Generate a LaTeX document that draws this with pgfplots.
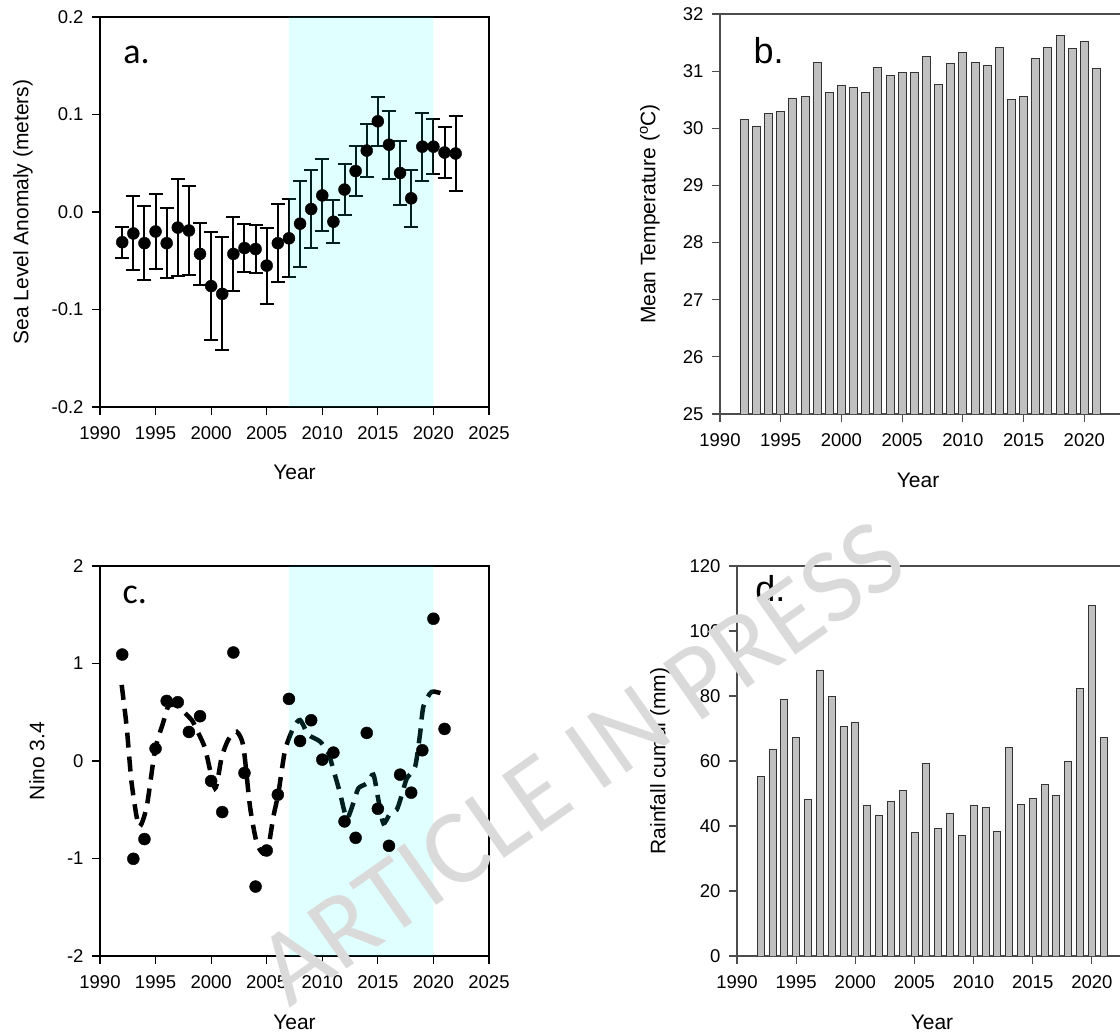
\documentclass[border=0pt]{standalone}
\usepackage{fontspec}
\setmainfont{Liberation Sans}
\newfontfamily\carlito{Carlito}
\usepackage{pgfplots}
\pgfplotsset{compat=1.18}

\definecolor{barfill}{RGB}{192,192,192}
\definecolor{wm}{RGB}{218,218,218}
\definecolor{aqua}{RGB}{0,255,255}

\pgfplotsset{
  panel/.style={
    scale only axis, anchor=south west,
    xmin=1990, xmax=2025, xtick={1990,1995,...,2025},
    tick align=outside, tick pos=left,
    major tick length=8pt,
    /pgf/number format/1000 sep={},
    /pgf/number format/assume math mode=true,
    ticklabel style={font=\fontsize{18.5}{18.5}\selectfont},
    xticklabel style={yshift=-8pt},
    yticklabel style={xshift=-5pt},
    label style={font=\fontsize{21}{21}\selectfont},
    axis line style={line width=1.1pt},
    every tick/.style={line width=1.1pt, black},
  },
  barpanel/.style={
    panel,
    axis line style={line width=1.1pt, black!70},
    every tick/.style={line width=1.1pt, black!70},
  },
}
\tikzset{letter/.style={anchor=base west, font=\fontsize{36}{36}\selectfont}}

\begin{document}
\begin{tikzpicture}

% a. sea level anomaly
\begin{axis}[panel,
  at={(100pt,628pt)}, width=389pt, height=390pt,
  ymin=-0.2, ymax=0.2, ytick={-0.2,-0.1,0,0.1,0.2},
  yticklabels={-0.2,-0.1,0.0,0.1,0.2},
  xlabel={Year}, ylabel={Sea Level Anomaly (meters)},
  xlabel style={at={(axis description cs:0.5,-0.167)}, anchor=center},
  ylabel style={at={(axis description cs:-0.198,0.5)}, anchor=center},
]
\addplot[only marks, mark=*, mark size=6pt, black,
  error bars/.cd, y dir=both, y explicit,
  error bar style={line width=2pt, black},
  error mark options={rotate=90, mark size=7pt, line width=2pt, black}]
  table[x=yr, y=v, y error=e] {
yr v e
1992 -0.031 0.016
1993 -0.022 0.038
1994 -0.032 0.038
1995 -0.020 0.038
1996 -0.032 0.036
1997 -0.016 0.050
1998 -0.019 0.046
1999 -0.043 0.032
2000 -0.076 0.055
2001 -0.084 0.058
2002 -0.043 0.038
2003 -0.037 0.025
2004 -0.038 0.025
2005 -0.055 0.039
2006 -0.032 0.040
2007 -0.027 0.040
2008 -0.012 0.044
2009 0.003 0.040
2010 0.017 0.037
2011 -0.010 0.022
2012 0.023 0.026
2013 0.042 0.026
2014 0.063 0.027
2015 0.093 0.025
2016 0.069 0.035
2017 0.040 0.033
2018 0.014 0.029
2019 0.067 0.035
2020 0.067 0.028
2021 0.061 0.026
2022 0.060 0.038
};
\addplot[draw=none, fill=aqua, fill opacity=0.12]
  coordinates {(2007,-0.2) (2007,0.2) (2020,0.2) (2020,-0.2) (2007,-0.2)};
\node[letter, font=\carlito\fontsize{36}{36}\selectfont] at (axis description cs:0.051,0.882) {a.};
\end{axis}

% b. mean temperature
\begin{axis}[barpanel,
  at={(720pt,621pt)}, width=425pt, height=400pt,
  ymin=25, ymax=32, ytick={25,26,...,32},
  xlabel={Year}, ylabel={Mean Temperature (\textsuperscript{o}C)},
  xlabel style={at={(axis description cs:0.466,-0.165)}, anchor=center},
  ylabel style={at={(axis description cs:-0.165,0.5)}, anchor=center},
]
\addplot[ybar, bar width=8pt, bar shift=0pt, fill=barfill, draw=black!80, line width=0.8pt]
  coordinates {
(1992,30.16) (1993,30.04) (1994,30.26) (1995,30.30) (1996,30.53)
(1997,30.55) (1998,31.15) (1999,30.62) (2000,30.75) (2001,30.72)
(2002,30.63) (2003,31.07) (2004,30.93) (2005,30.98) (2006,30.97)
(2007,31.25) (2008,30.76) (2009,31.14) (2010,31.32) (2011,31.15)
(2012,31.10) (2013,31.42) (2014,30.51) (2015,30.55) (2016,31.22)
(2017,31.42) (2018,31.62) (2019,31.40) (2020,31.52) (2021,31.04)
};
\node[letter] at (axis description cs:0.071,0.877) {b.};
\end{axis}

% c. Nino 3.4
\begin{axis}[panel,
  at={(100pt,79pt)}, width=389pt, height=390pt,
  ymin=-2, ymax=2, ytick={-2,-1,0,1,2},
  yticklabels={-2,-1,0,1,2},
  xlabel={Year}, ylabel={Nino 3.4},
  xlabel style={at={(axis description cs:0.5,-0.169)}, anchor=center},
  ylabel style={at={(axis description cs:-0.162,0.5)}, anchor=center},
]
\addplot[only marks, mark=*, mark size=6pt, black] coordinates {
(1992,1.092) (1993,-1.003) (1994,-0.801) (1995,0.127) (1996,0.616)
(1997,0.603) (1998,0.298) (1999,0.459) (2000,-0.205) (2001,-0.524)
(2002,1.113) (2003,-0.123) (2004,-1.288) (2005,-0.918) (2006,-0.346)
(2007,0.637) (2008,0.205) (2009,0.418) (2010,0.014) (2011,0.086)
(2012,-0.620) (2013,-0.788) (2014,0.288) (2015,-0.490) (2016,-0.870)
(2017,-0.140) (2018,-0.325) (2019,0.110) (2020,1.459) (2021,0.329)
};
\addplot[smooth, tension=0.4, black, line width=4.5pt, dash pattern=on 15pt off 9pt] coordinates {
(1991.95,0.78) (1992.4,0.35) (1992.85,-0.23) (1993.5,-0.67) (1994.2,-0.47)
(1994.95,0.11) (1995.7,0.40) (1996.15,0.56) (1996.9,0.57) (1998.25,0.42)
(1998.7,0.32) (1999.45,0.13) (2000.35,-0.28) (2000.95,0.04) (2001.55,0.22)
(2002.3,0.30) (2002.9,0.15) (2003.5,-0.47) (2004.1,-0.84) (2004.7,-0.95)
(2005.15,-0.88) (2005.6,-0.57) (2006.05,-0.33) (2006.65,0.11) (2007.4,0.34)
(2008.0,0.42) (2008.75,0.27) (2009.8,0.20) (2010.55,0.08) (2011.0,-0.09)
(2011.6,-0.33) (2012.2,-0.59) (2012.8,-0.43) (2013.25,-0.28) (2014.0,-0.23)
(2014.6,-0.14) (2015.05,-0.40) (2015.5,-0.64) (2016.1,-0.54) (2016.7,-0.50)
(2017.15,-0.35) (2017.6,-0.18) (2018.35,-0.06) (2018.8,0.28) (2019.1,0.56)
(2019.85,0.71) (2021.05,0.68)
};
\addplot[draw=none, fill=aqua, fill opacity=0.12]
  coordinates {(2007,-2) (2007,2) (2020,2) (2020,-2) (2007,-2)};
\node[letter, font=\carlito\fontsize{36}{36}\selectfont] at (axis description cs:0.049,0.905) {c.};
\end{axis}

% d. rainfall
\begin{axis}[barpanel,
  at={(737pt,79pt)}, width=414pt, height=390pt,
  ymin=0, ymax=120, ytick={0,20,...,120},
  xlabel={Year}, ylabel={Rainfall cumul (mm)},
  xlabel style={at={(axis description cs:0.471,-0.169)}, anchor=center},
  ylabel style={at={(axis description cs:-0.186,0.5)}, anchor=center},
]
\addplot[ybar, bar width=7pt, bar shift=0pt, fill=barfill, draw=black!80, line width=0.8pt]
  coordinates {
(1992,55.2) (1993,63.5) (1994,78.8) (1995,67.2) (1996,48.1)
(1997,88.0) (1998,79.8) (1999,70.5) (2000,71.8) (2001,46.3)
(2002,43.4) (2003,47.5) (2004,50.8) (2005,38.1) (2006,59.3)
(2007,39.2) (2008,43.9) (2009,37.2) (2010,46.3) (2011,45.7)
(2012,38.4) (2013,64.1) (2014,46.7) (2015,48.4) (2016,52.8)
(2017,49.3) (2018,59.9) (2019,82.4) (2020,107.8) (2021,67.2)
};
\node[letter] at (axis description cs:0.036,0.908) {d.};
\end{axis}

\node[rotate=35, text=wm, font=\carlito\fontsize{107}{107}\selectfont] at (581pt,272pt) {ARTICLE IN PRESS};

\pgfresetboundingbox
\path[use as bounding box] (0pt,0pt) rectangle (1120pt,1035pt);
\end{tikzpicture}
\end{document}
